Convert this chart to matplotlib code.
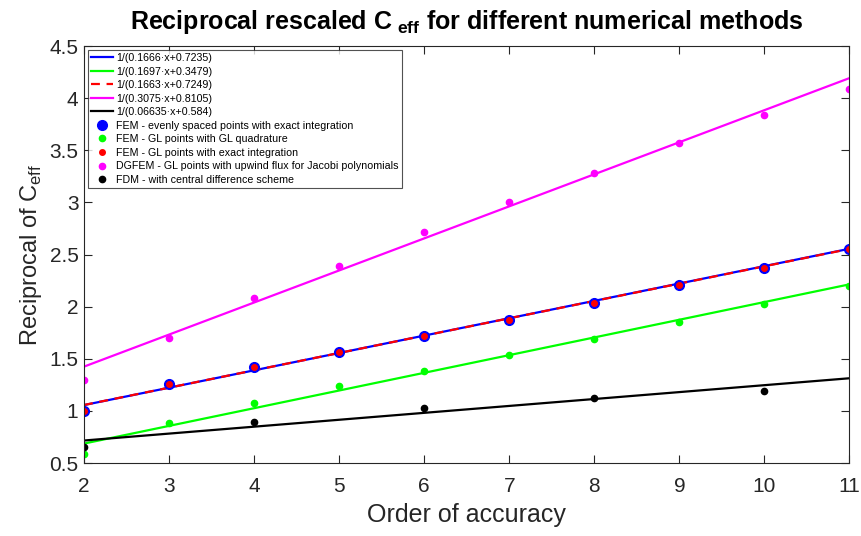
import numpy as np
import matplotlib
matplotlib.use('Agg')
import matplotlib.pyplot as plt

plt.rcParams['font.family'] = ['Liberation Sans', 'DejaVu Sans']
plt.rcParams['mathtext.fontset'] = 'custom'
plt.rcParams['mathtext.rm'] = 'Liberation Sans'
plt.rcParams['mathtext.bf'] = 'Liberation Sans:bold'

# linear fits (slope, intercept)
fit_labels = ['1/(0.1666\u00b7x+0.7235)', '1/(0.1697\u00b7x+0.3479)',
              '1/(0.1663\u00b7x+0.7249)', '1/(0.3075\u00b7x+0.8105)',
              '1/(0.06635\u00b7x+0.584)']
fit_slopes = [0.1666, 0.1697, 0.1663, 0.3075, 0.06635]
fit_intercepts = [0.7235, 0.3479, 0.7249, 0.8105, 0.584]

orders = [2, 3, 4, 5, 6, 7, 8, 9, 10, 11]
fem_even = [1.00, 1.255, 1.42, 1.565, 1.72, 1.875, 2.04, 2.21, 2.375, 2.555]
fem_gl_quad = [0.585, 0.88, 1.08, 1.235, 1.38, 1.535, 1.695, 1.855, 2.025, 2.195]
fem_gl_exact = [1.00, 1.255, 1.42, 1.565, 1.72, 1.875, 2.04, 2.21, 2.375, 2.555]
dgfem = [1.295, 1.70, 2.08, 2.395, 2.715, 3.00, 3.285, 3.57, 3.84, 4.085]
fdm_orders = [2, 4, 6, 8, 10]
fdm = [0.65, 0.89, 1.03, 1.125, 1.195]

point_labels = ['FEM - evenly spaced points with exact integration',
                'FEM - GL points with GL quadrature',
                'FEM - GL points with exact integration',
                'DGFEM - GL points with upwind flux for Jacobi polynomials',
                'FDM - with central difference scheme']

fig = plt.figure(figsize=(8.61, 5.36), dpi=100)
ax = fig.add_axes([0.0976, 0.136, 0.889, 0.778])

xs = np.linspace(2, 11, 50)
line_colors = ['#0000ff', '#00ff00', '#ff0000', '#ff00ff', '#000000']
line_styles = ['-', '-', '--', '-', '-']
for k in range(5):
    ln, = ax.plot(xs, fit_slopes[k] * xs + fit_intercepts[k], color=line_colors[k],
                  ls=line_styles[k], lw=1.6, label=fit_labels[k])
    if line_styles[k] == '--':
        ln.set_dashes((4, 3))

ax.plot(orders, fem_even, 'o', color='#0000ff', ms=7, label=point_labels[0])
ax.plot(orders, fem_gl_quad, 'o', color='#00ff00', ms=4.5, label=point_labels[1])
ax.plot(orders, fem_gl_exact, 'o', color='#ff0000', ms=4, label=point_labels[2])
ax.plot(orders, dgfem, 'o', color='#ff00ff', ms=4.5, label=point_labels[3])
ax.plot(fdm_orders, fdm, 'o', color='#000000', ms=4.5, label=point_labels[4])

ax.set_xlim(2, 11)
ax.set_ylim(0.5, 4.5)
ax.set_xticks(range(2, 12))
ax.set_yticks(np.arange(0.5, 4.51, 0.5))
ax.set_yticklabels(['0.5', '1', '1.5', '2', '2.5', '3', '3.5', '4', '4.5'])
ax.tick_params(direction='in', top=True, right=True, labelsize=15,
               colors='#262626', length=6, width=0.8)
ax.tick_params(axis='x', pad=10)
ax.tick_params(axis='y', pad=4)
for s in ax.spines.values():
    s.set_color('#262626')
    s.set_linewidth(0.8)

ax.set_xlabel('Order of accuracy', fontsize=18, color='#262626', labelpad=5)
ax.set_ylabel('Reciprocal of C$_{\\rm eff}$', fontsize=17, color='#262626')
ax.set_title('Reciprocal rescaled C$_{\\bf \\ eff}$ for different numerical methods',
             fontsize=18, fontweight='bold', pad=12)

leg = ax.legend(loc='upper left', fontsize=7.7, frameon=True, fancybox=False,
                edgecolor='#262626', borderaxespad=0.35, handlelength=2.1,
                handletextpad=0.25, labelspacing=0.33, borderpad=0.3)
leg.get_frame().set_linewidth(0.8)

fig.savefig('out.png', dpi=100)
